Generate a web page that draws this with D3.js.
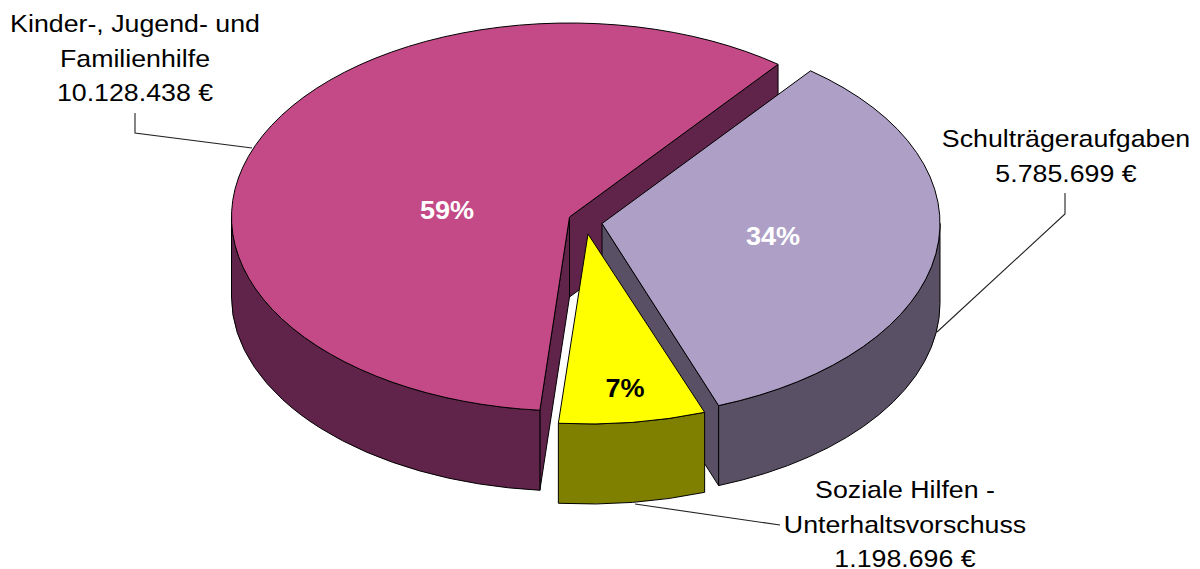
<!DOCTYPE html>
<html><head><meta charset="utf-8">
<script src="https://cdn.jsdelivr.net/npm/d3@7"></script>
<style>html,body{margin:0;padding:0;background:#fff}svg{display:block}</style>
</head><body><svg id="c" width="1200" height="569"></svg>
<script>
const categories = ["Schulträgeraufgaben", "Soziale Hilfen - Unterhaltsvorschuss", "Kinder-, Jugend- und Familienhilfe"];
const values = [5785699, 1198696, 10128438];
const topColors = ["#AE9FC6", "#FFFF00", "#C34A86"];
const sideColors = ["#5A5065", "#808000", "#60234A"];
const centers = [[602,223.5],[588,234],[569.5,217]];
const radiiY = [194,190,194];
const labelLines = [["Schulträgeraufgaben"],["Soziale Hilfen -","Unterhaltsvorschuss"],["Kinder-, Jugend- und","Familienhilfe"]];
const labelPos = [[1066,147],[905,498],[135,32]];
const pctPos = [[773,245],[625,397],[447,219]];
const pctColors = ["#fff","#000","#fff"];
const leaders = [[[1065,193],[1065,214],[937,332]],[[635,504],[780,525]],[[135,113],[135,133],[252,148]]];
const drawOrder = [2,0,1];

const rx = 338, depth = 80, startA = 38.1*Math.PI/180;
const fmt = d3.formatLocale({decimal:",",thousands:".",grouping:[3],currency:["","€"]}).format(",d");
const svg = d3.select("#c");
const font = "'Liberation Sans',Arial,sans-serif";
const arcs = d3.pie().sort(null).startAngle(startA).endAngle(startA+2*Math.PI).value(d=>d)(values);
const total = d3.sum(values);

const pt = (i,a,h=0)=>[centers[i][0]+rx*Math.sin(a), centers[i][1]-radiiY[i]*Math.cos(a)+h];
drawOrder.forEach(i=>{
  const s = arcs[i], g = svg.append("g"), c = centers[i], ry = radiiY[i];
  const wall = d=>g.append("path").attr("d",d).attr("fill",sideColors[i]).attr("stroke","#000").attr("stroke-width",1).attr("stroke-linejoin","round");
  [[s.startAngle,-1],[s.endAngle,1]].forEach(([a,sign])=>{
    if (Math.cos(a+sign*Math.PI/2) < 0){
      const p = pt(i,a), q = pt(i,a,depth);
      wall(d3.line()([c,p,q,[c[0],c[1]+depth]])+"Z");
    }
  });
  [[Math.PI/2,3*Math.PI/2],[Math.PI/2+2*Math.PI,3*Math.PI/2+2*Math.PI]].forEach(([lo,hi])=>{
    const a0 = Math.max(s.startAngle,lo), a1 = Math.min(s.endAngle,hi);
    if (a1>a0){
      const p0=pt(i,a0),p1=pt(i,a1),p2=pt(i,a1,depth),p3=pt(i,a0,depth);
      wall(`M${p0}A${rx} ${ry} 0 0 1 ${p1}L${p2}A${rx} ${ry} 0 0 0 ${p3}Z`);
    }
  });
  g.append("path")
    .attr("d",d3.arc().innerRadius(0).outerRadius(rx)(s))
    .attr("transform",`translate(${c}) scale(1,${ry/rx})`)
    .attr("fill",topColors[i]).attr("stroke","#000").attr("stroke-width",1)
    .attr("vector-effect","non-scaling-stroke");
});
leaders.forEach(l=>svg.append("path").attr("d",d3.line()(l)).attr("fill","none").attr("stroke","#222").attr("stroke-width",1.1));
labelLines.forEach((ls,i)=>{
  [...ls, fmt(values[i])+" €"].forEach((t,k)=>{
    svg.append("text").attr("transform",`translate(${labelPos[i][0]},${labelPos[i][1]+k*34.5}) scale(1.115,1)`)
      .attr("text-anchor","middle").attr("font-family",font).attr("font-size",24).attr("fill","#000").text(t);
  });
  svg.append("text").attr("transform",`translate(${pctPos[i]}) scale(1.04,1)`).attr("text-anchor","middle")
    .attr("font-family",font).attr("font-weight","bold").attr("font-size",26).attr("fill",pctColors[i])
    .text(Math.round(values[i]/total*100)+"%");
});
</script></body></html>
